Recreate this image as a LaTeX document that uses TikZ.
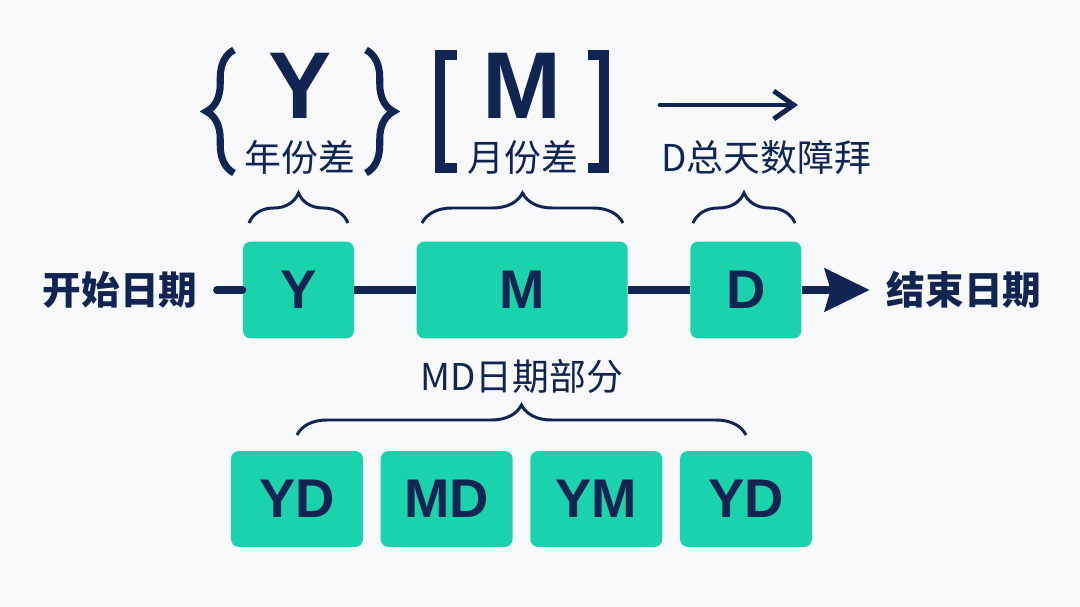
\documentclass[tikz,border=0pt]{standalone}
\usepackage{fontspec}
\setmainfont{Liberation Sans}
\newfontfamily\cjk{Noto Sans CJK SC}
\usepackage{tikz}
\usetikzlibrary{arrows.meta,positioning,decorations.pathreplacing}
\usepackage{xcolor}
\definecolor{dfnavy}{RGB}{18,36,82}
\definecolor{dfteal}{RGB}{26,211,172}
\definecolor{dfpaper}{RGB}{247,249,250}
\tikzstyle{part} = [rectangle, rounded corners=4.5pt, minimum height=1.94cm, inner sep=0pt, text centered, fill=dfteal, text=dfnavy, font=\fontsize{31}{31}\selectfont\bfseries]
\tikzstyle{ends} = [inner sep=0pt, text=dfnavy, font=\cjk\fontsize{22}{22}\selectfont\bfseries]
\tikzstyle{note} = [inner sep=0pt, text=dfnavy, font=\cjk\fontsize{21}{21}\selectfont]
\tikzstyle{bigsym} = [inner sep=0pt, text=dfnavy, font=\fontsize{54}{54}\selectfont\bfseries]
\tikzstyle{link} = [line width=4pt, color=dfnavy]
\tikzstyle{grp} = [decorate, decoration={brace, amplitude=0.6cm}, line width=1.7pt, color=dfnavy]
\tikzstyle{curly} = [decorate, decoration={brace, amplitude=0.55cm}, line width=4pt, color=dfnavy]
\tikzstyle{square} = [line width=5.5pt, color=dfnavy]

\begin{document}
\begin{tikzpicture}[x=0.02cm, y=-0.02cm]
\useasboundingbox (0,0) rectangle (1080,607);
\fill[dfpaper] (0,0) rectangle (1080,607);

% Timeline
\node (by) [part, minimum width=2.22cm] at (298.5,290) {Y};
\node (bm) [part, minimum width=4.22cm, right=1.24cm of by] {M};
\node (bd) [part, minimum width=2.22cm, right=1.24cm of bm] {D};
\node (start) [ends, left=0.9cm of by] {开始日期};
\node (end) [ends, right=1.7cm of bd] {结束日期};

\draw[link, line cap=round, shorten <=0.38cm] (start) -- (by);
\draw[link] (by) -- (bm);
\draw[link] (bm) -- (bd);
\draw[link, -{Stealth[length=0.9cm, width=0.86cm, inset=0.12cm]}, shorten >=0.34cm] (bd) -- (end);

% Units above
\node (ybig) [bigsym] at (300,86) {Y};
\node (ynote) [note] at (300,157) {年份差};
\draw[curly] (234,173) -- (234,50);
\draw[curly] (366,50) -- (366,173);

\node (mbig) [bigsym] at (522,86) {M};
\node (mnote) [note] at (523,157) {月份差};
\draw[square] (457,55) -- (440,55) -- (440,168) -- (457,168);
\draw[square] (588,55) -- (604,55) -- (604,168) -- (588,168);

\coordinate (da) at (660,105);
\coordinate (db) at (798,105);
\draw[line width=2.8pt, color=dfnavy, line cap=round, line join=round, -{Straight Barb[length=0.4cm, width=0.56cm]}] (da) -- (db);
\node (dnote) [note] at (766,157) {D总天数障拜};

\draw[grp] (249,223) -- (348,223);
\draw[grp] (422,223) -- (623,223);
\draw[grp] (693,223) -- (795,223);

% Parts below
\node (mdnote) [note] at (522,376) {MD日期部分};
\draw[grp] (297,435) -- (746,435);

\node (p1) [part, minimum width=2.64cm, minimum height=1.92cm] at (297,499) {YD};
\node (p2) [part, minimum width=2.64cm, minimum height=1.92cm, right=0.34cm of p1] {MD};
\node (p3) [part, minimum width=2.64cm, minimum height=1.92cm, right=0.34cm of p2] {YM};
\node (p4) [part, minimum width=2.64cm, minimum height=1.92cm, right=0.34cm of p3] {YD};
\end{tikzpicture}
\end{document}
